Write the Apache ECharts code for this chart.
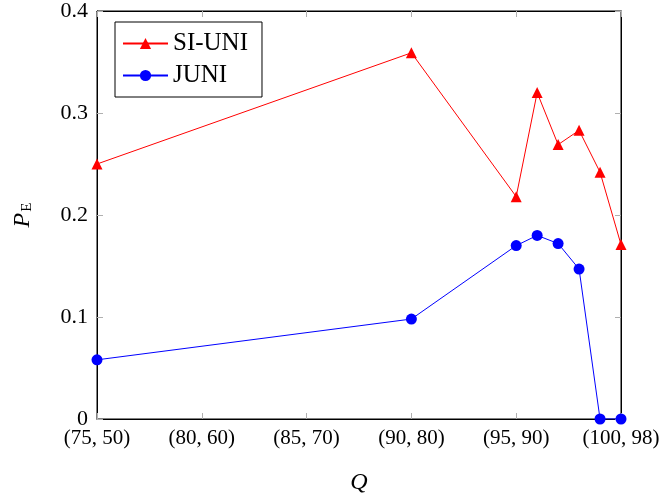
<!DOCTYPE html>
<html>
<head>
<meta charset="utf-8">
<script src="https://cdn.jsdelivr.net/npm/echarts@6/dist/echarts.min.js"></script>
<style>html,body{margin:0;padding:0;background:#fff}#c{width:666px;height:500px}</style>
</head>
<body>
<div id="c"></div>
<script>
const xValues = [75, 90, 95, 96, 97, 98, 99, 100];
const siUni = [0.250, 0.359, 0.218, 0.320, 0.269, 0.283, 0.242, 0.171];
const juni = [0.058, 0.098, 0.170, 0.180, 0.172, 0.147, 0.0, 0.0];
const xTickValues = [75, 80, 85, 90, 95, 100];
const xTickLabels = ['(75, 50)', '(80, 60)', '(85, 70)', '(90, 80)', '(95, 90)', '(100, 98)'];

const FONT = 'Liberation Serif';
const tickGray = '#b0b0b0';

function pairs(xs, ys) { return xs.map((x, i) => [x, ys[i]]); }

const chart = echarts.init(document.getElementById('c'), null, {renderer: 'canvas'});
const commonX = {
  type: 'value', min: 75, max: 100, interval: 5,
  axisLine: {show: true, onZero: false, lineStyle: {color: '#000', width: 1}},
  axisTick: {show: true, inside: true, length: 6, lineStyle: {color: tickGray}},
  splitLine: {show: false}
};
const commonY = {
  type: 'value', min: 0, max: 0.4, interval: 0.1,
  axisLine: {show: true, onZero: false, lineStyle: {color: '#000', width: 1}},
  axisTick: {show: true, inside: true, length: 6, lineStyle: {color: tickGray}},
  splitLine: {show: false}
};
chart.setOption({
  animation: false,
  textStyle: {fontFamily: FONT},
  grid: {left: 97, top: 8, width: 524, height: 411, containLabel: false,
         show: true, borderColor: '#000', borderWidth: 1, backgroundColor: 'transparent'},
  legend: {
    orient: 'vertical', left: 115, top: 22,
    data: ['SI-UNI', 'JUNI'],
    borderColor: '#000', borderWidth: 1, borderRadius: 0,
    padding: [9, 14, 9, 7], itemGap: 7, itemWidth: 45, itemHeight: 14,
    textStyle: {fontFamily: FONT, fontSize: 25, color: '#000'}
  },
  xAxis: [
    Object.assign({}, commonX, {
      position: 'bottom',
      name: 'Q', nameLocation: 'middle', nameGap: 52,
      nameTextStyle: {fontFamily: FONT, fontSize: 24, fontStyle: 'italic', color: '#000'},
      axisLabel: {
        show: true, margin: 9, fontSize: 21, color: '#000', fontFamily: FONT,
        formatter: v => { const i = xTickValues.indexOf(v); return i >= 0 ? xTickLabels[i] : ''; }
      }
    }),
    Object.assign({}, commonX, {position: 'top', axisLabel: {show: false}})
  ],
  yAxis: [
    Object.assign({}, commonY, {
      position: 'left',
      name: '{p|P}{s|E}', nameLocation: 'middle', nameGap: 62, nameRotate: 90,
      nameTextStyle: {
        color: '#000',
        rich: {
          p: {fontFamily: FONT, fontSize: 24, fontStyle: 'italic', color: '#000'},
          s: {fontFamily: FONT, fontSize: 15, color: '#000', padding: [10, 0, 0, 1]}
        }
      },
      axisLabel: {show: true, margin: 9, fontSize: 22, color: '#000', fontFamily: FONT}
    }),
    Object.assign({}, commonY, {position: 'right', axisLabel: {show: false}})
  ],
  series: [
    {
      name: 'SI-UNI', type: 'line', data: pairs(xValues, siUni),
      symbol: 'triangle', symbolSize: 11,
      lineStyle: {color: '#ff0000', width: 1},
      itemStyle: {color: '#ff0000'}
    },
    {
      name: 'JUNI', type: 'line', data: pairs(xValues, juni),
      symbol: 'circle', symbolSize: 11,
      lineStyle: {color: '#0000ff', width: 1},
      itemStyle: {color: '#0000ff'}
    }
  ]
});
</script>
</body>
</html>
